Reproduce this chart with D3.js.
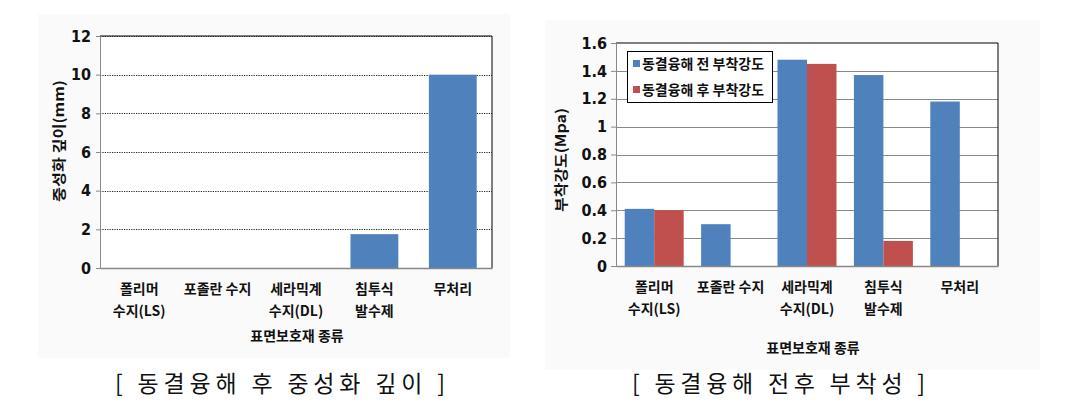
<!DOCTYPE html>
<html><head><meta charset="utf-8">
<script src="https://cdn.jsdelivr.net/npm/d3@7"></script>
<style>
body{margin:0;background:#fff;}
svg{display:block;}
text{font-family:"Noto Sans CJK KR","Noto Sans",sans-serif;fill:#111;}
.num{font-family:"Liberation Sans Narrow","DejaVu Sans Condensed","Liberation Sans",sans-serif;font-weight:bold;font-size:16px;}
</style></head><body>
<svg id="c" width="1073" height="414"></svg>
<script>
// ---- data ----
const categories = ["폴리머\n수지(LS)", "포졸란 수지", "세라믹계\n수지(DL)", "침투식\n발수제", "무처리"];
const depthValues = [0, 0, 0, 1.75, 10.0];
const depthTicks = [0, 2, 4, 6, 8, 10, 12];
const seriesNames = ["동결융해 전 부착강도", "동결융해 후 부착강도"];
const beforeValues = [0.41, 0.30, 1.48, 1.37, 1.18];
const afterValues = [0.40, 0, 1.45, 0.18, 0];
const strengthTicks = [0, 0.2, 0.4, 0.6, 0.8, 1, 1.2, 1.4, 1.6];
const strengthTickLabels = ["0", "0.2", "0.4", "0.6", "0.8", "1", "1.2", "1.4", "1.6"];
const captions = ["[ 동결융해 후 중성화 깊이 ]", "[ 동결융해 전후 부착성 ]"];
const colors = ["#4F81BD", "#C0504D"];

const svg = d3.select("#c");

// faint chart-area backgrounds
svg.append("rect").attr("x",38).attr("y",14).attr("width",472).attr("height",344).attr("fill","#fafafa");
svg.append("rect").attr("x",545).attr("y",20).attr("width",495).attr("height",350).attr("fill","#fafafa");

function catLabels(g, yPos, center) {
  categories.forEach((c) => {
    const lines = c.split("\n");
    const t = g.append("text").attr("text-anchor","middle")
      .attr("font-size","14px").attr("font-weight","bold").attr("fill","#222");
    lines.forEach((ln, j) => {
      t.append("tspan").attr("x", center(c)).attr("y", yPos + j*22).text(ln);
    });
  });
}

// ===== Left chart =====
{
  const L = 100, R = 492, T = 36, B = 268;
  const x = d3.scaleBand().domain(categories).range([L, R]).paddingInner(0.39).paddingOuter(0.195);
  const y = d3.scaleLinear().domain([0, 12]).range([B, T]);
  const g = svg.append("g");
  g.append("rect").attr("x",L).attr("y",T).attr("width",R-L).attr("height",B-T).attr("fill","#fff");
  g.append("path").attr("d",`M${L},${T}H${R}V${B}`).attr("fill","none").attr("stroke","#000").attr("stroke-width",1);
  g.selectAll(".grid").data(depthTicks.filter(d=>d>0)).join("line")
    .attr("x1",L).attr("x2",R).attr("y1",d=>Math.round(y(d))+0.5).attr("y2",d=>Math.round(y(d))+0.5)
    .attr("stroke","#222").attr("stroke-width",1.2).attr("stroke-dasharray","1.2,1.2");
  g.selectAll(".bar").data(depthValues).join("rect")
    .attr("x",(d,i)=>x(categories[i])).attr("width",x.bandwidth())
    .attr("y",d=>y(d)).attr("height",d=>B-y(d)).attr("fill",colors[0]);
  const ay = d3.axisLeft(y).tickValues(depthTicks).tickSize(4).tickFormat(d3.format("d"));
  const gy = g.append("g").attr("transform",`translate(${L},0)`).call(ay);
  gy.select(".domain").attr("stroke","#888");
  gy.selectAll(".tick line").attr("stroke","#888");
  gy.selectAll("text").attr("class","num").attr("x",-9).attr("fill","#111");
  const ax = d3.axisBottom(x).tickSize(0).tickFormat("");
  const gx = g.append("g").attr("transform",`translate(0,${B})`).call(ax);
  gx.select(".domain").attr("stroke","#888").attr("stroke-width",1.5);
  catLabels(g, 294, c => x(c) + x.bandwidth()/2);
  g.append("text").attr("text-anchor","middle").attr("x",297).attr("y",341)
    .attr("font-size","14px").attr("font-weight","bold").text("표면보호재 종류");
  g.append("text").attr("text-anchor","middle").attr("transform","translate(64,141) rotate(-90)")
    .attr("font-size","14px").attr("font-weight","bold")
    .attr("textLength",122).attr("lengthAdjust","spacingAndGlyphs").text("중성화 깊이(mm)");
}

// ===== Right chart =====
{
  const L = 616, R = 998, T = 43, B = 266;
  const x = d3.scaleBand().domain(categories).range([L, R]).paddingInner(0.228).paddingOuter(0.114);
  const xs = d3.scaleBand().domain(seriesNames).range([0, x.bandwidth()]);
  const y = d3.scaleLinear().domain([0, 1.6]).range([B, T]);
  const g = svg.append("g");
  g.append("rect").attr("x",L).attr("y",T).attr("width",R-L).attr("height",B-T).attr("fill","#fff");
  g.selectAll(".grid").data(strengthTicks.filter(d=>d>0 && d<1.6)).join("line")
    .attr("x1",L).attr("x2",R).attr("y1",d=>Math.round(y(d))+0.5).attr("y2",d=>Math.round(y(d))+0.5)
    .attr("stroke","#8a8a8a").attr("stroke-width",1);
  g.append("path").attr("d",`M${L},${T}H${R}V${B}`).attr("fill","none").attr("stroke","#000").attr("stroke-width",1);
  const series = [beforeValues, afterValues];
  series.forEach((vals, si) => {
    g.selectAll(".bar"+si).data(vals).join("rect")
      .attr("x",(d,i)=>x(categories[i]) + xs(seriesNames[si])).attr("width",xs.bandwidth())
      .attr("y",d=>y(d)).attr("height",d=>B-y(d)).attr("fill",colors[si]);
  });
  const ay = d3.axisLeft(y).tickValues(strengthTicks).tickSize(5)
    .tickFormat((d,i)=>strengthTickLabels[i]);
  const gy = g.append("g").attr("transform",`translate(${L},0)`).call(ay);
  gy.select(".domain").attr("stroke","#888");
  gy.selectAll(".tick line").attr("stroke","#888");
  gy.selectAll("text").attr("class","num").attr("x",-9).attr("fill","#111");
  const ax = d3.axisBottom(x).tickSize(0).tickFormat("");
  const gx = g.append("g").attr("transform",`translate(0,${B})`).call(ax);
  gx.select(".domain").attr("stroke","#888").attr("stroke-width",1.5);
  catLabels(g, 292, c => x(c) + x.bandwidth()/2);
  g.append("text").attr("text-anchor","middle").attr("x",813).attr("y",353)
    .attr("font-size","14px").attr("font-weight","bold").text("표면보호재 종류");
  g.append("text").attr("text-anchor","middle").attr("transform","translate(566,160) rotate(-90)")
    .attr("font-size","14px").attr("font-weight","bold")
    .attr("textLength",104).attr("lengthAdjust","spacingAndGlyphs").text("부착강도(Mpa)");
  const lg = g.append("g");
  lg.append("rect").attr("x",627.5).attr("y",51.5).attr("width",145).attr("height",51)
    .attr("fill","#fff").attr("stroke","#000").attr("stroke-width",1);
  seriesNames.forEach((s, i) => {
    const yy = 64 + i*26;
    lg.append("rect").attr("x",633).attr("y",yy-4).attr("width",7).attr("height",7).attr("fill",colors[i]);
    lg.append("text").attr("x",642).attr("y",yy+5).attr("font-size","14px").attr("font-weight","bold")
      .attr("textLength",122).attr("lengthAdjust","spacingAndGlyphs").text(s);
  });
}

// captions
svg.append("text").attr("x",115).attr("y",392).attr("font-size","23px")
  .attr("textLength",330).attr("lengthAdjust","spacing").text(captions[0]);
svg.append("text").attr("x",632).attr("y",392).attr("font-size","23px")
  .attr("textLength",293).attr("lengthAdjust","spacing").text(captions[1]);
</script>
</body></html>
